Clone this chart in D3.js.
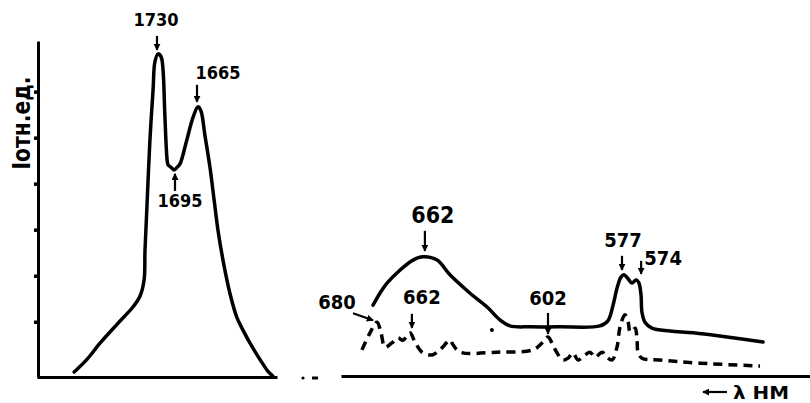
<!DOCTYPE html>
<html lang="ru">
<head>
<meta charset="utf-8">
<script src="https://d3js.org/d3.v7.min.js"></script>
<title>Спектры</title>
<style>
  body { margin: 0; background: #fff; }
  text { font-family: "Liberation Sans Narrow", "DejaVu Sans Condensed", sans-serif; font-weight: bold; fill: #000; }
</style>
</head>
<body>
<div id="chart"></div>
<script>
// IR band (left panel): wavenumber, cm-1 / relative intensity
const irWavenumber = [1917, 1888, 1859, 1821, 1786, 1770, 1761, 1759, 1755, 1748, 1741, 1737, 1730,
  1723, 1719, 1715, 1710, 1708, 1702, 1695, 1691, 1687.5, 1679, 1671, 1665,
  1655, 1642, 1625, 1611, 1598, 1578, 1558, 1535, 1511, 1491, 1467, 1447, 1431, 1414];
const irIntensity = [0.11, 0.39, 0.74, 1.15, 1.52, 1.76, 2.11, 2.76, 3.63, 5.15, 6.24, 6.84, 7.02,
  6.95, 6.67, 5.69, 4.71, 4.61, 4.56, 4.50, 4.56, 4.63, 5.15, 5.65, 5.87,
  5.78, 5.26, 4.56, 3.85, 3.19, 2.43, 1.82, 1.30, 0.98, 0.74, 0.48, 0.28, 0.13, 0.02];

// visible spectrum (right panel), solid curve: wavelength nm / intensity
const solidNm = [684.4, 678.7, 675.5, 669.7, 663.8, 659.3, 652.8, 646.9, 637.7, 629.9, 624.0, 619.4, 610.2,
  598.1, 584.9, 582.3, 580.6, 579.3, 578.0, 577.0, 576.1, 575.3, 574.4, 573.6, 572.7, 572.3, 571.0,
  568.0, 560.2, 550.3, 535.7, 520.2];
const solidI = [1.56, 1.82, 2.04, 2.32, 2.54, 2.61, 2.54, 2.22, 1.82, 1.52, 1.24, 1.11, 1.09,
  1.09, 1.11, 1.22, 1.56, 1.93, 2.17, 2.22, 2.13, 2.04, 2.11, 2.04, 1.78, 1.41, 1.19,
  1.06, 1.00, 0.96, 0.87, 0.76];

// visible spectrum, dashed curve
const dashNm = [696.7, 687.8, 680.0, 678.2, 676.4, 673.3, 670.6, 668.3, 665.2, 662.9, 659.7, 655.1, 651.5,
  646.9, 645.5, 642.3, 625.4, 608.9, 604.7, 602.0, 600.7, 599.0, 597.1, 595.4, 593.8, 592.1, 589.8,
  588.2, 586.5, 584.2, 582.6, 580.9, 579.3, 578.3, 576.8, 576.1, 575.7, 575.1, 574.6, 574.2, 574.0,
  572.3, 564.5, 547.3, 521.5];
const dashI = [0.59, 0.96, 1.19, 0.96, 0.65, 0.74, 0.85, 0.80, 0.96, 0.76, 0.54, 0.48, 0.59,
  0.80, 0.70, 0.54, 0.54, 0.59, 0.74, 0.87, 0.74, 0.52, 0.37, 0.41, 0.52, 0.37, 0.48,
  0.54, 0.43, 0.54, 0.43, 0.37, 0.65, 1.09, 1.35, 1.19, 0.98, 1.02, 1.06, 0.80, 0.54,
  0.41, 0.37, 0.30, 0.24];

const yTicks = [1.2, 2.2, 3.2, 4.2, 5.2, 6.2];

const width = 810, height = 403;

const svg = d3.select("#chart")
  .append("svg")
  .attr("width", width)
  .attr("height", height);

svg.append("defs").append("marker")
  .attr("id", "head")
  .attr("viewBox", "0 0 8 8")
  .attr("refX", 7).attr("refY", 4)
  .attr("markerWidth", 7).attr("markerHeight", 7)
  .attr("markerUnits", "userSpaceOnUse")
  .attr("orient", "auto")
  .append("path").attr("d", "M0,0 L8,4 L0,8 z").attr("fill", "#000");

// scales (hand drawn chart, so the wavelength scales are piecewise)
const y = d3.scaleLinear().domain([0, 7.3]).range([377, 41]);
const xIR = d3.scaleLinear()
  .domain([2000, 1730, 1695, 1665, 1400])
  .range([37, 158, 174, 198, 277]);
const xVis = d3.scaleLinear()
  .domain([720, 680, 662, 602, 577, 574, 500])
  .range([341, 377, 417, 548, 624, 638, 810]);

// axes
const styleAxis = g => {
  g.select(".domain").attr("stroke", "#000").attr("stroke-width", 3);
  g.selectAll(".tick line").attr("stroke", "#000").attr("stroke-width", 3.5);
};
svg.append("g")
  .attr("transform", `translate(38,0)`)
  .call(d3.axisLeft(y).tickValues(yTicks).tickSize(4).tickSizeOuter(0).tickFormat(""))
  .call(styleAxis);
svg.append("g")
  .attr("transform", `translate(0,${y(0)})`)
  .call(d3.axisBottom(xIR).tickValues([]).tickSizeOuter(0))
  .call(styleAxis);
svg.append("g")
  .attr("transform", `translate(0,${y(0) - 1})`)
  .call(d3.axisBottom(xVis).tickValues([]).tickSizeOuter(0))
  .call(styleAxis);

// break marks between the panels
svg.append("circle").attr("cx", 303).attr("cy", y(0) + 1).attr("r", 1.6);
svg.append("line").attr("x1", 312).attr("x2", 318).attr("y1", y(0) + 1).attr("y2", y(0) + 1)
  .attr("stroke", "#000").attr("stroke-width", 3);

// curves
const curve = d3.curveCatmullRom.alpha(0.5);
const lineIR = d3.line().x(d => xIR(d[0])).y(d => y(d[1])).curve(curve);
const lineVis = d3.line().x(d => xVis(d[0])).y(d => y(d[1])).curve(curve);

svg.append("path")
  .datum(d3.zip(irWavenumber, irIntensity))
  .attr("d", lineIR)
  .attr("fill", "none").attr("stroke", "#000").attr("stroke-width", 3.5)
  .attr("stroke-linejoin", "round").attr("stroke-linecap", "round");

svg.append("path")
  .datum(d3.zip(solidNm, solidI))
  .attr("d", lineVis)
  .attr("fill", "none").attr("stroke", "#000").attr("stroke-width", 3.5)
  .attr("stroke-linejoin", "round").attr("stroke-linecap", "round");

svg.append("path")
  .datum(d3.zip(dashNm, dashI))
  .attr("d", lineVis)
  .attr("fill", "none").attr("stroke", "#000").attr("stroke-width", 3.5)
  .attr("stroke-dasharray", "9,6")
  .attr("stroke-linejoin", "round");

// stray ink dot
svg.append("circle").attr("cx", xVis(627.7)).attr("cy", y(1.02)).attr("r", 2);

// annotations
const arrow = (x1, y1, x2, y2) => svg.append("line")
  .attr("x1", x1).attr("y1", y1).attr("x2", x2).attr("y2", y2)
  .attr("stroke", "#000").attr("stroke-width", 2.2)
  .attr("marker-end", "url(#head)");
const label = (t, x, yy, size) => svg.append("text")
  .attr("x", x).attr("y", yy)
  .attr("text-anchor", "middle").attr("dominant-baseline", "central")
  .style("font-size", size + "px")
  .text(t);

// IR peaks
let px = xIR(1730), py = y(7.02);
arrow(px - 1, py - 18, px - 1, py - 4); label("1730", px - 2, py - 34, 18);
px = xIR(1695); py = y(4.50);
arrow(px + 1, py + 21, px + 1, py + 4); label("1695", px + 6, py + 31, 18);
px = xIR(1665); py = y(5.87);
arrow(px - 1, py - 22, px - 1, py - 5); label("1665", px + 20, py - 34, 18);

// visible peaks
px = xVis(659.3); py = y(2.61);
arrow(px + 2, py - 26, px + 2, py - 6); label("662", px + 10, py - 42, 23);
px = xVis(680); py = y(1.19);
arrow(px - 24, py - 9, px - 4, py - 2); label("680", px - 40, py - 20, 20);
px = xVis(665.2); py = y(0.96);
arrow(px + 2, py - 19, px + 2, py - 5); label("662", px + 12, py - 36, 20);
px = xVis(602); py = y(0.87);
arrow(px, py - 24, px, py - 3); label("602", px, py - 39, 20);
px = xVis(577); py = y(2.22);
arrow(px - 2, py - 19, px - 2, py - 5); label("577", px - 1, py - 35, 20);
px = xVis(574.4); py = y(2.11);
arrow(px + 5, py - 19, px + 5, py - 6); label("574", px + 27, py - 22, 20);

// axis captions
svg.append("text")
  .attr("transform", "translate(22,123) rotate(-90)")
  .attr("text-anchor", "middle").attr("dominant-baseline", "central")
  .attr("textLength", 93).attr("lengthAdjust", "spacingAndGlyphs")
  .style("font-size", "24px")
  .text("Iотн.ед.");

arrow(727, 392, 703, 392);
svg.append("text")
  .attr("x", 733).attr("y", 393)
  .attr("dominant-baseline", "central")
  .attr("textLength", 56).attr("lengthAdjust", "spacingAndGlyphs")
  .style("font-size", "17px")
  .text("λ НМ");
</script>
</body>
</html>
